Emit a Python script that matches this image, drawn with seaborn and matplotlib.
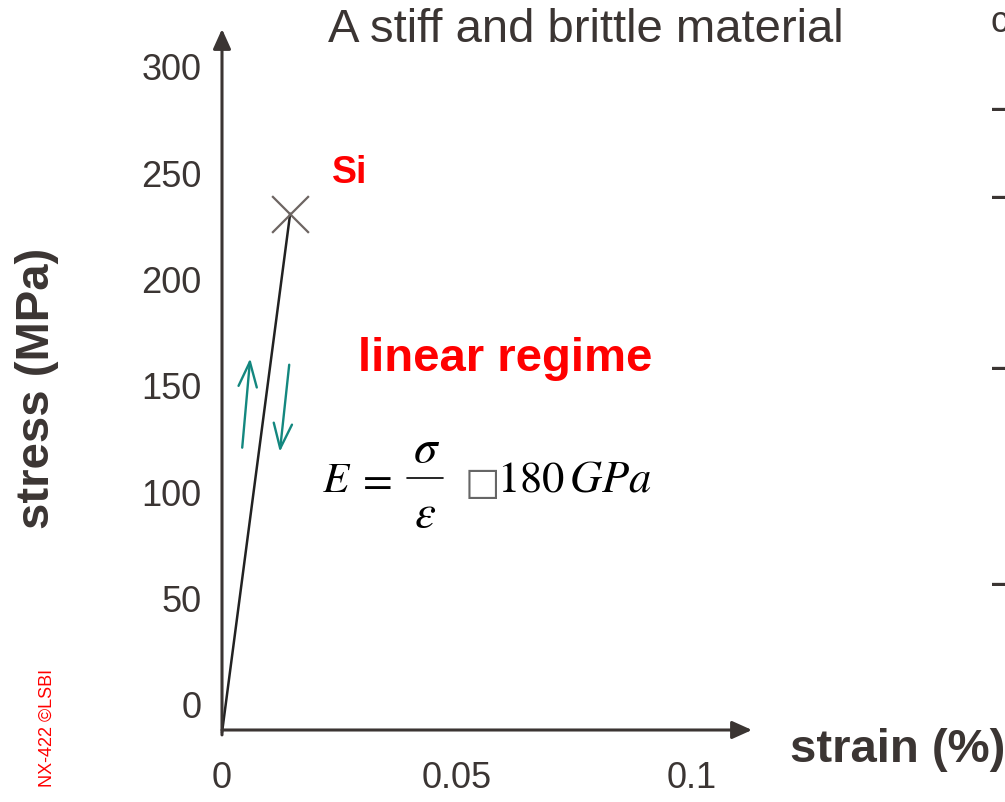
import matplotlib
matplotlib.use("Agg")
import matplotlib.pyplot as plt
import seaborn as sns
import numpy as np
import pandas as pd
from matplotlib.lines import Line2D

# --- data ---
strain = [0.0, 0.0145]          # %
stress = [-13.0, 231.0]         # MPa
fracture_strain = [0.0145]
fracture_stress = [231.0]

y_ticks = [0, 50, 100, 150, 200, 250, 300]
x_ticks = [0, 0.05, 0.1]
x_ticklabels = ["0", "0.05", "0.1"]

# loading / unloading arrows (start strain, start stress, end strain, end stress)
load_arrow = (0.0043, 121.0, 0.0060, 163.0)
unload_arrow = (0.0143, 160.0, 0.0123, 119.0)

dark = '#3b3533'
teal = '#13877f'

sns.set_theme(style='white')
plt.rcParams['font.family'] = ['Liberation Sans', 'DejaVu Sans']
plt.rcParams['mathtext.fontset'] = 'stix'

W, H = 1005, 802
fig = plt.figure(figsize=(W / 100, H / 100), dpi=100)

def px(x, y):
    return x / W, 1 - y / H

# axes box: left spine at x=222px, bottom at y=730px, arrow tips at 752px / 29px
ax = fig.add_axes([222 / W, (H - 730) / H, (752 - 222) / W, (730 - 29) / H])
ax.set_xlim(0, (752 - 222) / 4700)
ax.set_ylim((705 - 730) / 2.1267, (705 - 29) / 2.1267)
ax.patch.set_alpha(0)
for s in ax.spines.values():
    s.set_visible(False)

# axis arrows
ax.annotate('', xy=(1, 0), xytext=(0, 0), xycoords='axes fraction',
            arrowprops=dict(arrowstyle='-|>,head_length=1.0,head_width=0.45',
                            color=dark, lw=2.2, shrinkA=0, shrinkB=0))
ax.annotate('', xy=(0, 1), xytext=(0, -0.007), xycoords='axes fraction',
            arrowprops=dict(arrowstyle='-|>,head_length=1.0,head_width=0.45',
                            color=dark, lw=2.2, shrinkA=0, shrinkB=0))

# stress-strain line and fracture point
df = pd.DataFrame({'strain': strain, 'stress': stress})
sns.lineplot(data=df, x='strain', y='stress', color='#222222', lw=1.8,
             estimator=None, ax=ax, clip_on=False)
sns.scatterplot(x=fracture_strain, y=fracture_stress, marker='x', s=700,
                color='#6d6562', linewidth=1.6, ax=ax, clip_on=False, zorder=5)

# loading / unloading arrows
for a in (load_arrow, unload_arrow):
    ax.annotate('', xy=(a[2], a[3]), xytext=(a[0], a[1]), xycoords='data',
                arrowprops=dict(arrowstyle='->,head_length=1.5,head_width=0.55',
                                color=teal, lw=1.7, shrinkA=0, shrinkB=0))

ax.set_yticks(y_ticks)
ax.set_xticks(x_ticks)
ax.set_xticklabels(x_ticklabels)
ax.tick_params(axis='y', length=0, pad=14.5, labelsize=26, labelcolor=dark)
ax.tick_params(axis='x', length=0, pad=22, labelsize=26, labelcolor=dark)
ax.set_xlabel('')
ax.set_ylabel('')
ax.grid(False)

# texts
fig.text(*px(586, 42), 'A stiff and brittle material', ha='center', va='baseline',
         fontsize=34, color=dark)
fig.text(*px(37, 388), 'stress (MPa)', rotation=90, ha='center', va='center',
         fontsize=34, fontweight='bold', color=dark)
fig.text(*px(790, 762), 'strain (%)', ha='left', va='baseline',
         fontsize=34, fontweight='bold', color=dark)
fig.text(*px(332, 183), 'Si', ha='left', va='baseline', fontsize=27,
         fontweight='bold', color='red')
fig.text(*px(358, 371), 'linear regime', ha='left', va='baseline', fontsize=34,
         fontweight='bold', color='red')

# E = sigma / epsilon  ~ 180 GPa
fig.text(*px(322, 492), r'$E$', ha='left', va='baseline', fontsize=31, color='black')
fig.text(*px(374, 492), r'$=$', ha='center', va='baseline', fontsize=31, color='black')
fig.text(*px(427, 462), r'$\sigma$', ha='center', va='baseline', fontsize=34, color='black')
fig.text(*px(425, 527), r'$\varepsilon$', ha='center', va='baseline', fontsize=34, color='black')
fig.add_artist(Line2D([407 / W, 443 / W], [1 - 478 / H, 1 - 478 / H],
                      color='black', lw=1.2, transform=fig.transFigure))
fig.text(*px(465, 494), '\u25a1', ha='left', va='baseline', fontsize=27,
         color='#666666', family=['DejaVu Sans'])
fig.text(*px(497, 492), r'$\mathrm{180}\,GPa$', ha='left', va='baseline',
         fontsize=32, color='black')

fig.text(*px(47, 728), 'NX-422 ©LSBI', rotation=90, ha='center', va='center',
         fontsize=13, color='red')

# cut-off text from the neighbouring slide column
fig.text(*px(990, 32), 'c', ha='left', va='baseline', fontsize=26, color=dark)
for yy in [118, 206, 377, 593]:
    fig.text(*px(991, yy), '\u2013', ha='left', va='baseline', fontsize=24,
             fontweight='bold', color=dark)

fig.savefig('out.png', dpi=100)
